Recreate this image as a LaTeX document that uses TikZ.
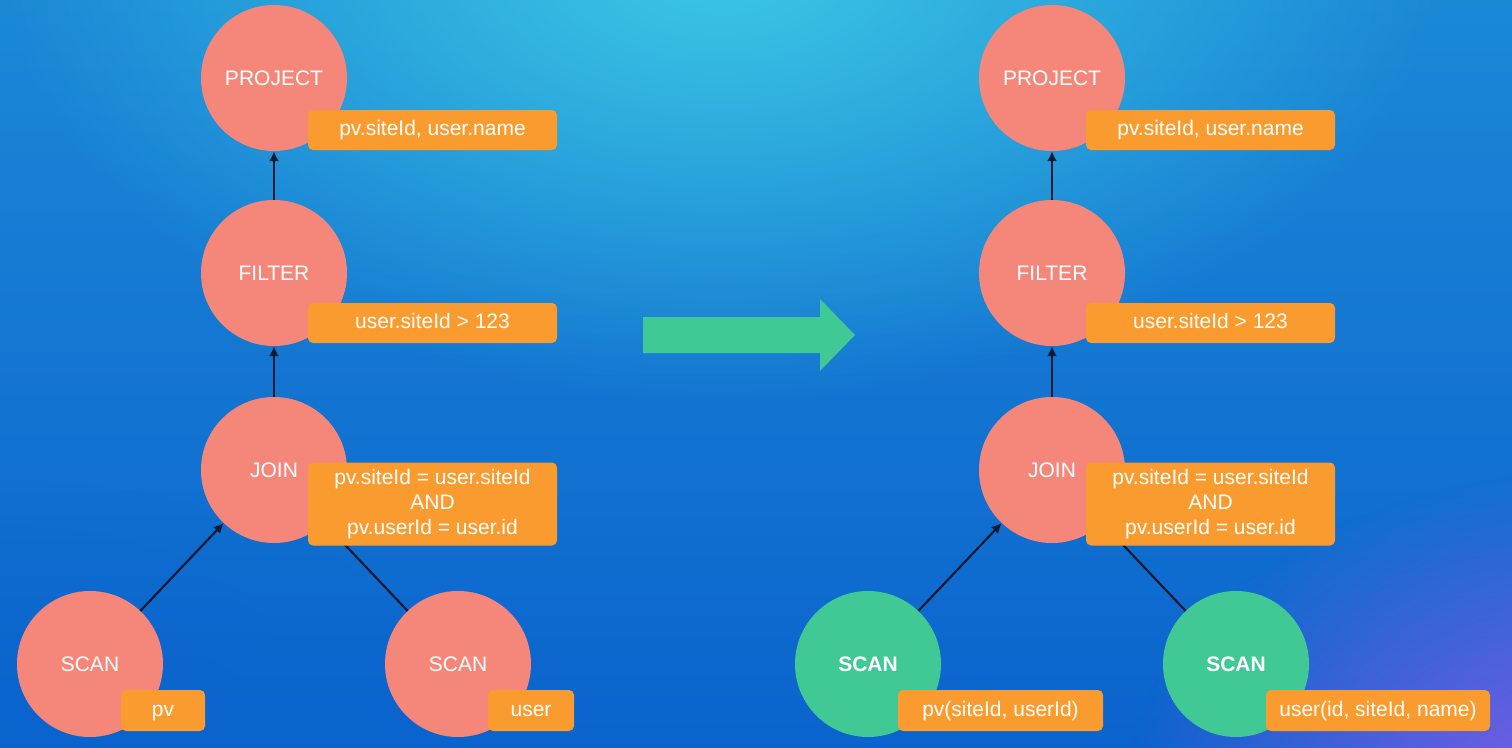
\documentclass[tikz,border=0pt]{standalone}
\usepackage{fontspec}
\setmainfont{Liberation Sans}
\usetikzlibrary{arrows.meta,fadings}
\definecolor{salmon}{HTML}{F5877A}
\definecolor{mint}{HTML}{40C995}
\definecolor{lorange}{HTML}{F99B2E}
\definecolor{linec}{HTML}{0F1B33}
\definecolor{bgtop}{HTML}{1B88D6}
\definecolor{bgbot}{HTML}{0B63CD}
\definecolor{glowc}{HTML}{3CC8E4}
\definecolor{purp}{HTML}{8A5CE8}
\tikzfading[name=radfade, inner color=transparent!0, outer color=transparent!100]
\begin{document}
\begin{tikzpicture}[x=1pt,y=-1pt,
  op/.style={circle, fill=salmon, minimum size=146pt, inner sep=0pt, text=white,
    font=\fontsize{21}{25}\selectfont},
  gop/.style={op, fill=mint, font=\fontsize{21}{25}\selectfont\bfseries},
  lblbase/.style={rectangle, rounded corners=5pt, fill=lorange, text=white, inner sep=0pt,
    align=center, font=\fontsize{21}{25}\selectfont},
  lbl/.style={lblbase, minimum height=40pt, text height=15pt, text depth=4pt},
  conn/.style={draw=linec, line width=2.2pt, -{Latex[length=10pt,width=10pt]}},
  bigarrow/.style={fill=mint}]
\useasboundingbox (0,0) rectangle (1512,747);
\begin{scope}
  \clip (0,0) rectangle (1512,747);
  \shade[top color=bgtop, bottom color=bgbot] (0,0) rectangle (1512,747);
  \fill[glowc, path fading=radfade] (720,-40) ellipse [x radius=720pt, y radius=440pt];
  \fill[purp, path fading=radfade] (1600,810) ellipse [x radius=480pt, y radius=340pt];
  \fill[bgbot, path fading=radfade, opacity=0.6] (0,780) ellipse [x radius=500pt, y radius=300pt];
\end{scope}

% left tree
\node[op] (p1) at (274,78) {PROJECT};
\node[op] (f1) at (274,273) {FILTER};
\node[op] (j1) at (274,470) {JOIN};
\node[op] (s1a) at (90,664) {SCAN};
\node[op] (s1b) at (458,664) {SCAN};
\draw[conn] (f1) -- (p1);
\draw[conn] (j1) -- (f1);
\draw[conn] (s1a) -- (j1);
\draw[conn] (s1b) -- (j1);
\node[lbl, minimum width=249pt] (lp1) at (432.5,130) {pv.siteId, user.name};
\node[lbl, minimum width=249pt] (lf1) at (432.5,323) {user.siteId > 123};
\node[lblbase, minimum width=249pt, minimum height=83pt] (lj1) at (432.5,504) {pv.siteId = user.siteId\\AND\\pv.userId = user.id};
\node[lbl, minimum width=84pt, minimum height=41pt] (ls1a) at (163,710.5) {pv};
\node[lbl, minimum width=86pt, minimum height=41pt] (ls1b) at (531,710.5) {user};

% transform arrow
\fill[bigarrow] (643,317) -- (820,317) -- (820,299) -- (855,335) -- (820,371) -- (820,353) -- (643,353) -- cycle;

% right tree
\node[op] (p2) at (1052,78) {PROJECT};
\node[op] (f2) at (1052,273) {FILTER};
\node[op] (j2) at (1052,470) {JOIN};
\node[gop] (s2a) at (868,664) {SCAN};
\node[gop] (s2b) at (1236,664) {SCAN};
\draw[conn] (f2) -- (p2);
\draw[conn] (j2) -- (f2);
\draw[conn] (s2a) -- (j2);
\draw[conn] (s2b) -- (j2);
\node[lbl, minimum width=249pt] (lp2) at (1210.5,130) {pv.siteId, user.name};
\node[lbl, minimum width=249pt] (lf2) at (1210.5,323) {user.siteId > 123};
\node[lblbase, minimum width=249pt, minimum height=83pt] (lj2) at (1210.5,504) {pv.siteId = user.siteId\\AND\\pv.userId = user.id};
\node[lbl, minimum width=205pt, minimum height=41pt] (ls2a) at (1000.5,710.5) {pv(siteId, userId)};
\node[lbl, minimum width=224pt, minimum height=41pt] (ls2b) at (1378,710.5) {user(id, siteId, name)};
\end{tikzpicture}
\end{document}
